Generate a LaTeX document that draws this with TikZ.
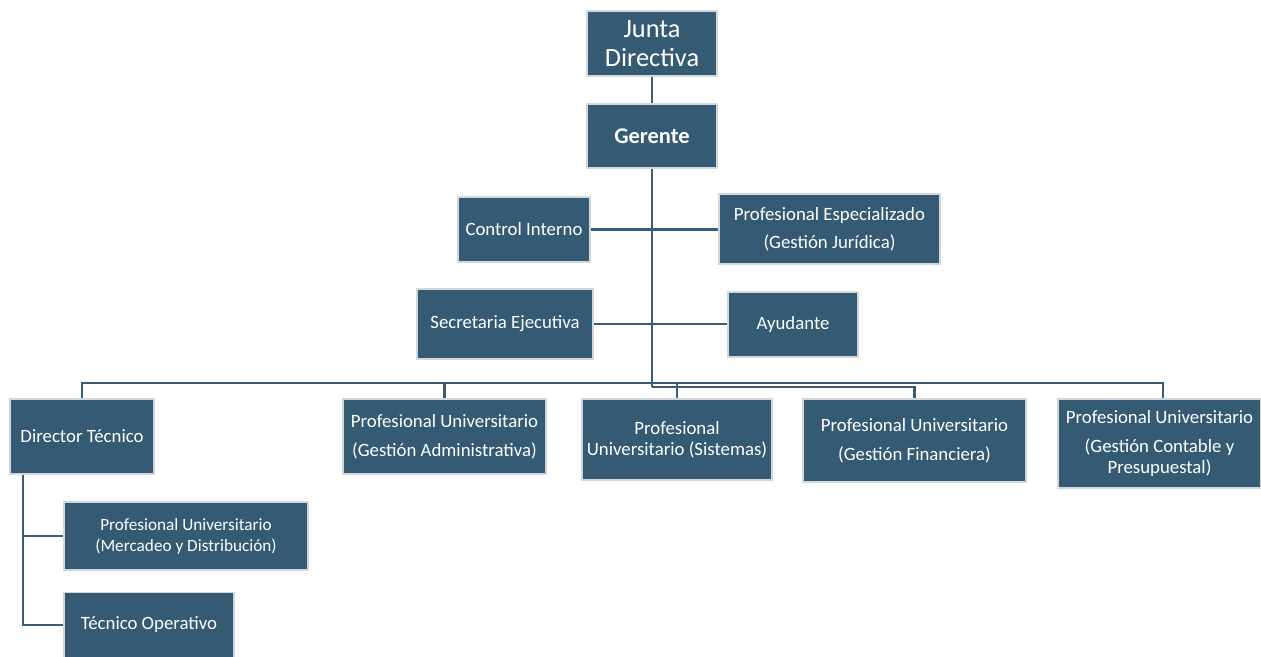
\documentclass[tikz,border=0pt]{standalone}
\usepackage{fontspec}
\setmainfont{Carlito}
\usetikzlibrary{positioning, calc}
\definecolor{boxBlue}{HTML}{345A74}
\definecolor{lineBlue}{HTML}{3A5D76}
\definecolor{rimGray}{HTML}{D4D8DC}

\begin{document}
\begin{tikzpicture}[
    x=0.02cm, y=-0.02cm,
    box/.style={draw=rimGray, line width=1.1pt, fill=boxBlue, text=white, align=center, inner sep=1pt, font=\fontsize{10.7}{12}\selectfont},
    link/.style={draw=lineBlue, line width=1.2pt},
  ]
    \useasboundingbox (0,0) rectangle (1261,656);

    \node[box, minimum width=2.6cm, minimum height=1.3cm, font=\fontsize{15}{16.5}\selectfont] (junta) at (652,43.5) {Junta\\Directiva};
    \node[box, minimum width=2.6cm, minimum height=1.28cm, font=\fontsize{12.8}{14}\selectfont\bfseries] (gerente) at (652,136) {Gerente};

    \node[box, minimum width=2.64cm, minimum height=1.3cm] (control) at (524,229.5) {Control Interno};
    \node[box, minimum width=4.42cm, minimum height=1.4cm] (juridica) at (829.5,229) {Profesional Especializado\\[4pt](Gestión Jurídica)};
    \node[box, minimum width=3.52cm, minimum height=1.4cm] (secretaria) at (505,324) {Secretaria Ejecutiva};
    \node[box, minimum width=2.6cm, minimum height=1.3cm] (ayudante) at (793,324.5) {Ayudante};

    % fila de profesionales
    \node[box, minimum width=2.88cm, minimum height=1.5cm] (director) at (82,436.5) {Director Técnico};
    \node[box, minimum width=4.06cm, minimum height=1.5cm] (admin) at (444.5,436.5) {Profesional Universitario\\[4.4pt](Gestión Administrativa)};
    \node[box, minimum width=3.8cm, minimum height=1.62cm] (sistemas) at (677,439.5) {Profesional\\Universitario (Sistemas)};
    \node[box, minimum width=4.46cm, minimum height=1.66cm] (financiera) at (914.5,440.5) {Profesional Universitario\\[4.4pt](Gestión Financiera)};
    \node[box, minimum width=4.06cm, minimum height=1.78cm] (contable) at (1159.5,443.5) {Profesional Universitario\\[4.4pt](Gestión Contable y\\Presupuestal)};

    \node[box, minimum width=4.88cm, minimum height=1.36cm, font=\fontsize{9.8}{12}\selectfont] (mercadeo) at (186,536) {Profesional Universitario\\(Mercadeo y Distribución)};
    \node[box, minimum width=3.4cm, minimum height=1.3cm] (operativo) at (149,625) {Técnico Operativo};

    \coordinate (bus) at (652,383);
    \coordinate (trunk) at (652,387);
    \coordinate (drop) at ([xshift=0.28cm]director.south west);

    \draw[link] (junta) -- (gerente);
    \draw[link] (gerente) -- (trunk);
    \draw[link] (control.east) -- (control.east -| juridica.west);
    \draw[link] (secretaria.east) -- (secretaria.east -| ayudante.west);

    \draw[link] (director.north) |- (bus) -| ([xshift=0.07cm]contable.north);
    \draw[link] (admin.north) -- (admin.north |- bus);
    \draw[link] (sistemas.north) -- (sistemas.north |- bus);
    \draw[link] (trunk) -| (financiera.north);

    \draw[link] (drop) |- (mercadeo.west);
    \draw[link] (drop) |- (operativo.west);
  \end{tikzpicture}
\end{document}
